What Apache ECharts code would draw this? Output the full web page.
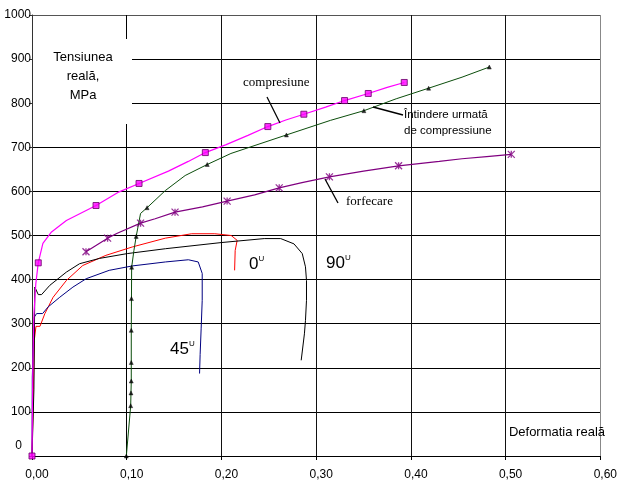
<!DOCTYPE html>
<html>
<head>
<meta charset="utf-8">
<script src="https://cdn.jsdelivr.net/npm/echarts@6/dist/echarts.min.js"></script>
<style>html,body{margin:0;padding:0;background:#fff}#c{width:620px;height:484px}</style>
</head>
<body>
<div id="c"></div>
<script>
// X axis ticks (strain) and Y axis ticks (stress, MPa)
const xTicks = [0, 0.1, 0.2, 0.3, 0.4, 0.5, 0.6];
const yTicks = [0, 100, 200, 300, 400, 500, 600, 700, 800, 900, 1000];

// compresiune (magenta)
const compLine = [[0,0],[0.0005,120],[0.001,220],[0.002,320],[0.004,390],[0.0066,438],[0.0115,482],[0.0206,508],[0.0363,534],[0.0676,568],[0.092,599],[0.113,618],[0.144,646],[0.165,668],[0.183,688],[0.205,706],[0.228,727],[0.249,747],[0.268,762],[0.287,775],[0.31,791],[0.33,806],[0.355,822],[0.375,836],[0.393,847]];
const compMarkers = [[0,0],[0.0066,438],[0.0676,568],[0.113,618],[0.183,688],[0.249,747],[0.287,775],[0.33,806],[0.355,822],[0.393,847]];

// Întindere urmată de compressiune (dark green)
const tensLine = [[0.0996,0],[0.1042,114],[0.1045,143],[0.1048,170],[0.1048,212],[0.1048,285],[0.1050,357],[0.1052,428],[0.1076,466],[0.110,498],[0.1146,550],[0.1215,563],[0.1408,602],[0.1617,636],[0.185,661],[0.21,686],[0.2686,728],[0.315,761],[0.3504,783],[0.3845,810],[0.4187,834],[0.454,859],[0.4828,882]];
const tensMarkers = [[0.0996,0],[0.1042,114],[0.1045,143],[0.1048,170],[0.1048,212],[0.1048,285],[0.1050,357],[0.1052,428],[0.110,498],[0.1215,563],[0.185,661],[0.2686,728],[0.3504,783],[0.4187,834],[0.4828,882]];

// forfecare (purple)
const shearLine = [[0.057,463],[0.0798,494],[0.09,505],[0.1146,528],[0.13,538],[0.151,553],[0.18,565],[0.206,578],[0.235,592],[0.261,608],[0.285,620],[0.314,633],[0.35,646],[0.387,658],[0.43,668],[0.454,674],[0.48,679],[0.506,684]];
const shearMarkers = [[0.057,463],[0.0798,494],[0.1146,528],[0.151,553],[0.206,578],[0.261,608],[0.314,633],[0.387,658],[0.506,684]];

// 0° (red)
const deg0 = [[0,0],[0.001,100],[0.0024,262],[0.0042,294],[0.0084,294],[0.0136,323],[0.0223,360],[0.0363,398],[0.0536,432],[0.078,455],[0.1059,474],[0.1408,494],[0.1686,504],[0.193,504],[0.2103,500],[0.2166,489],[0.2145,466],[0.2139,421]];
// 45° (navy)
const deg45 = [[0,0],[0.0003,179],[0.0024,315],[0.0049,323],[0.0112,323],[0.017,338],[0.0293,360],[0.0432,383],[0.0572,402],[0.0815,421],[0.1059,431],[0.1408,440],[0.1651,445],[0.1755,440],[0.1797,414],[0.1797,353],[0.1786,290],[0.1775,230],[0.1769,187]];
// 90° (black)
const deg90 = [[0,0],[0.002,150],[0.003,383],[0.0066,366],[0.0101,366],[0.0188,387],[0.0363,417],[0.0502,436],[0.0711,448],[0.1006,459],[0.1408,470],[0.1999,484],[0.2452,493],[0.2626,493],[0.2766,481],[0.2853,459],[0.2887,429],[0.2898,398],[0.2898,353],[0.2887,307],[0.2876,277],[0.2842,217]];

const FS = 'Arial, "Liberation Sans", sans-serif';
const FSERIF = '"Times New Roman", "Liberation Serif", serif';

const chart = echarts.init(document.getElementById('c'), null, {renderer: 'canvas'});

function lineSeries(data, color, w) {
  return {type: 'line', data: data, showSymbol: false, symbol: 'none', smooth: false,
    lineStyle: {color: color, width: w}, silent: true, animation: false, z: 3};
}
function markerSeries(data, symbol, size, style) {
  return {type: 'scatter', data: data, symbol: symbol, symbolSize: size, itemStyle: style,
    silent: true, animation: false, z: 4};
}

const option = {
  animation: false,
  backgroundColor: '#fff',
  grid: {left: 32, right: 14, top: 15, bottom: 28, containLabel: false},
  xAxis: {
    type: 'value', min: xTicks[0], max: xTicks[xTicks.length - 1], interval: 0.1,
    axisLine: {show: true, onZero: false, lineStyle: {color: '#000', width: 1}},
    axisTick: {show: true, length: 4, lineStyle: {color: '#000'}},
    axisLabel: {color: '#000', fontFamily: FS, fontSize: 12, margin: 13, padding: [0, 0, 0, 10],
      formatter: v => v.toFixed(2).replace('.', ',')},
    splitLine: {show: true, lineStyle: {color: ['#000', '#000', '#111', '#111', '#111', '#111', '#888'], width: 1}}
  },
  yAxis: {
    type: 'value', min: yTicks[0], max: yTicks[yTicks.length - 1], interval: 100,
    axisLine: {show: true, onZero: false, lineStyle: {color: '#333', width: 1}},
    axisTick: {show: true, length: 3, lineStyle: {color: '#333'}},
    axisLabel: {color: '#000', fontFamily: FS, fontSize: 12, margin: 1,
      formatter: v => v === 0 ? '{z|0}' : String(v),
      rich: {z: {fontFamily: FS, fontSize: 12, color: '#000', padding: [0, 9, 20, 0]}}},
    splitLine: {show: true, lineStyle: {color: ['#000','#000','#000','#000','#000','#000','#000','#000','#000','#000','#555'], width: 1}}
  },
  series: [
    lineSeries(deg0, '#ff0000', 1),
    lineSeries(deg45, '#000080', 1),
    lineSeries(deg90, '#000000', 1),
    lineSeries(shearLine, '#800080', 1.2),
    lineSeries(tensLine, '#0b4d0b', 1),
    lineSeries(compLine, '#ff00ff', 1.2),
    markerSeries(compMarkers, 'rect', 6, {color: '#ff00ff', borderColor: '#660066', borderWidth: 1}),
    markerSeries(tensMarkers, 'triangle', 4, {color: '#000', borderColor: '#000', borderWidth: 0.5}),
    markerSeries(shearMarkers, 'path://M0,0L10,10M10,0L0,10M5,0L5,10', 7, {color: 'transparent', borderColor: '#800080', borderWidth: 1.3})
  ],
  graphic: [
    {type: 'rect', z: 100, shape: {x: 33, y: 39, width: 99, height: 85}, style: {fill: '#fff'}},
    {type: 'text', z: 101, x: 83, y: 57, style: {text: 'Tensiunea', fontFamily: FS, fontSize: 13, fill: '#000', align: 'center', verticalAlign: 'middle'}},
    {type: 'text', z: 101, x: 83, y: 76, style: {text: 'reală,', fontFamily: FS, fontSize: 13, fill: '#000', align: 'center', verticalAlign: 'middle'}},
    {type: 'text', z: 101, x: 83, y: 95, style: {text: 'MPa', fontFamily: FS, fontSize: 13, fill: '#000', align: 'center', verticalAlign: 'middle'}},
    {type: 'text', z: 101, x: 605, y: 432, style: {text: 'Deformatia reală', fontFamily: FS, fontSize: 13, fill: '#000', align: 'right', verticalAlign: 'middle'}},
    {type: 'text', z: 101, x: 243, y: 83, style: {text: 'compresiune', fontFamily: FSERIF, fontSize: 13, fill: '#000', align: 'left', verticalAlign: 'middle'}},
    {type: 'text', z: 101, x: 346, y: 202, style: {text: 'forfecare', fontFamily: FSERIF, fontSize: 13, fill: '#000', align: 'left', verticalAlign: 'middle'}},
    {type: 'text', z: 101, x: 404, y: 115, style: {text: 'Întindere urmată', fontFamily: FS, fontSize: 11.5, fill: '#000', align: 'left', verticalAlign: 'middle'}},
    {type: 'text', z: 101, x: 404, y: 131, style: {text: 'de compressiune', fontFamily: FS, fontSize: 11.5, fill: '#000', align: 'left', verticalAlign: 'middle'}},
    {type: 'line', z: 101, shape: {x1: 267, y1: 97, x2: 280, y2: 123}, style: {stroke: '#000', lineWidth: 1.3}},
    {type: 'line', z: 101, shape: {x1: 403, y1: 115, x2: 373, y2: 107}, style: {stroke: '#000', lineWidth: 1.3}},
    {type: 'line', z: 101, shape: {x1: 325, y1: 179, x2: 338, y2: 203}, style: {stroke: '#000', lineWidth: 1.3}},
    {type: 'text', z: 101, x: 249, y: 264, style: {text: '0{s|U}', fontFamily: FS, fontSize: 17, fill: '#000', verticalAlign: 'middle', rich: {s: {fontSize: 8, fontFamily: FS, fill: '#000', padding: [0, 0, 11, 0]}}}},
    {type: 'text', z: 101, x: 326, y: 263, style: {text: '90{s|U}', fontFamily: FS, fontSize: 17, fill: '#000', verticalAlign: 'middle', rich: {s: {fontSize: 8, fontFamily: FS, fill: '#000', padding: [0, 0, 11, 0]}}}},
    {type: 'text', z: 101, x: 170, y: 349, style: {text: '45{s|U}', fontFamily: FS, fontSize: 17, fill: '#000', verticalAlign: 'middle', rich: {s: {fontSize: 8, fontFamily: FS, fill: '#000', padding: [0, 0, 11, 0]}}}}
  ]
};
chart.setOption(option);
</script>
</body>
</html>
